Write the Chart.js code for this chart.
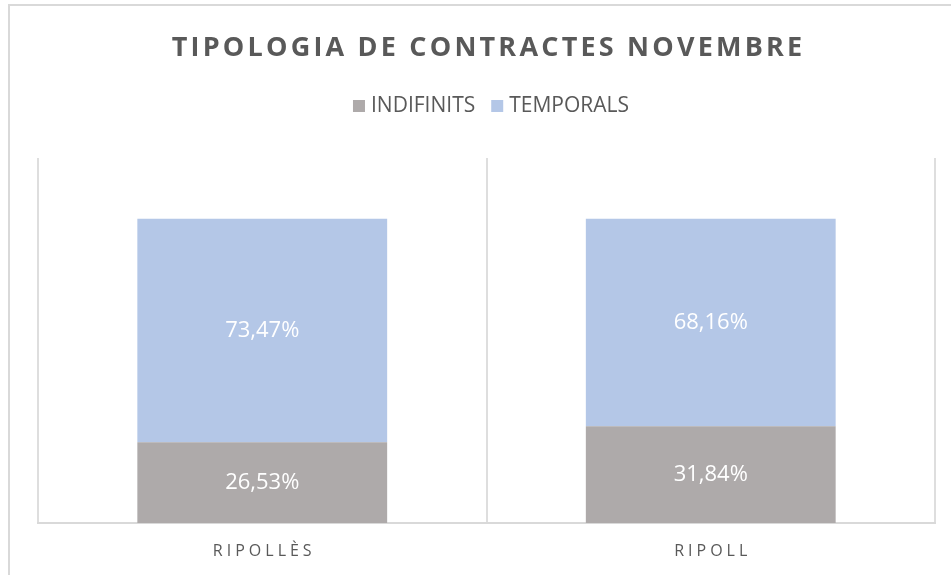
<!DOCTYPE html>
<html>
<head>
<meta charset="utf-8">
<script src="https://cdn.jsdelivr.net/npm/chart.js@4"></script>
<style>
  html, body { margin: 0; padding: 0; background: #fff; }
  #wrap { width: 951px; height: 575px; }
</style>
</head>
<body>
<div id="wrap"><canvas id="myChart" width="951" height="575"></canvas></div>
<script>
const titleText = "TIPOLOGIA DE CONTRACTES NOVEMBRE";
const categories = ["RIPOLLÈS", "RIPOLL"];
const indefinits = [26.53, 31.84];
const temporals = [73.47, 68.16];

const textColor = "#595959";
const fontFamily = '"Open Sans", "Liberation Sans", sans-serif';

function pct(v) {
  return v.toFixed(2).replace(".", ",") + "%";
}

// draws title, legend, category labels and value labels (letter spacing needs raw canvas)
const overlay = {
  id: "overlay",
  beforeDraw(chart) {
    const ctx = chart.ctx;
    ctx.save();
    ctx.strokeStyle = "#D9D9D9";
    ctx.lineWidth = 2;
    ctx.strokeRect(9, 5, 1200, 1200);
    ctx.restore();
  },
  afterDraw(chart) {
    const ctx = chart.ctx;
    const area = chart.chartArea;
    const cx = (area.left + area.right) / 2;
    ctx.save();
    ctx.textBaseline = "middle";

    // title
    ctx.font = "bold 27px " + fontFamily;
    ctx.letterSpacing = "3.2px";
    ctx.fillStyle = textColor;
    ctx.textAlign = "center";
    ctx.fillText(titleText, cx + 2, 48);

    // legend
    ctx.letterSpacing = "0px";
    ctx.font = "21px " + fontFamily;
    ctx.textAlign = "left";
    const box = 12, gap = 6, itemGap = 16;
    const items = chart.data.datasets.map(ds => ({
      label: ds.label, color: ds.backgroundColor, w: ctx.measureText(ds.label).width
    }));
    let total = 0;
    items.forEach((it, i) => { total += box + gap + it.w + (i ? itemGap : 0); });
    let x = 491 - total / 2;
    const ly = 106;
    items.forEach(it => {
      ctx.fillStyle = it.color;
      ctx.fillRect(x, ly - box / 2, box, box);
      x += box + gap;
      ctx.fillStyle = textColor;
      ctx.fillText(it.label, x, ly);
      x += it.w + itemGap;
    });

    // category labels
    const xs = chart.scales.x;
    ctx.font = "16px " + fontFamily;
    ctx.letterSpacing = "4px";
    ctx.textAlign = "center";
    ctx.fillStyle = textColor;
    chart.data.labels.forEach((lab, i) => {
      ctx.fillText(lab, xs.getPixelForValue(i) + 2, area.bottom + 28);
    });
    ctx.restore();
  },
  afterDatasetsDraw(chart) {
    const ctx = chart.ctx;
    ctx.save();
    ctx.font = "22px " + fontFamily;
    ctx.fillStyle = "#FFFFFF";
    ctx.textAlign = "center";
    ctx.textBaseline = "middle";
    chart.data.datasets.forEach((ds, d) => {
      chart.getDatasetMeta(d).data.forEach((bar, i) => {
        const y = (bar.y + bar.base) / 2;
        ctx.fillText(pct(ds.data[i]), bar.x, y);
      });
    });
    ctx.restore();
  }
};

const ctx = document.getElementById("myChart");

new Chart(ctx, {
  type: "bar",
  data: {
    labels: categories,
    datasets: [
      {
        label: "INDIFINITS",
        data: indefinits,
        backgroundColor: "#AEAAAA",
        barPercentage: 0.557,
        categoryPercentage: 1,
      },
      {
        label: "TEMPORALS",
        data: temporals,
        backgroundColor: "#B4C7E7",
        barPercentage: 0.557,
        categoryPercentage: 1,
      },
    ],
  },
  options: {
    responsive: false,
    animation: false,
    layout: {
      padding: { left: 38, right: 16, top: 158, bottom: 52 },
    },
    plugins: {
      legend: { display: false },
      title: { display: false },
      tooltip: { enabled: false },
    },
    scales: {
      x: {
        stacked: true,
        grid: {
          offset: true,
          color: "#DEDEDE",
          lineWidth: 2,
          drawTicks: false,
        },
        border: { display: true, color: "#D9D9D9", width: 2 },
        ticks: { display: false },
      },
      y: {
        stacked: true,
        display: false,
        min: 0,
        max: 120,
      },
    },
  },
  plugins: [overlay],
});
</script>
</body>
</html>
